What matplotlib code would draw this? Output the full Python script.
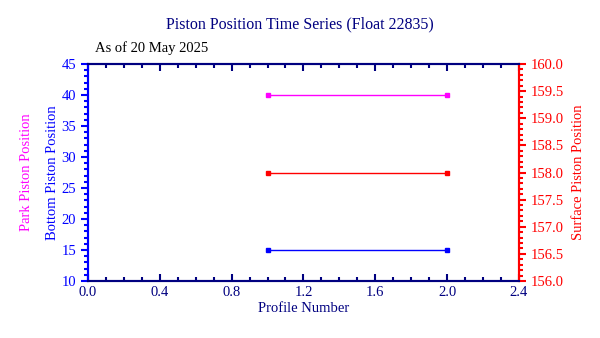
import matplotlib
matplotlib.use("Agg")
import matplotlib.pyplot as plt
from matplotlib.ticker import MultipleLocator, FormatStrFormatter

plt.rcParams['font.family'] = ['Liberation Serif', 'DejaVu Serif']

profiles = [1, 2]
bottom_piston = [15, 15]
park_piston = [40, 40]
surface_piston = [158.0, 158.0]

navy = '#000080'
fig = plt.figure(figsize=(6.0, 3.38), dpi=100)
ax = fig.add_axes([0.1467, 0.1686, 0.718, 0.642])

ax.plot(profiles, park_piston, color='#ff00ff', lw=1, marker='s', ms=3)
ax.plot(profiles, bottom_piston, color='#0000ff', lw=1, marker='s', ms=3)
ax.set_xlim(0, 2.4)
ax.set_ylim(10, 45)

ax2 = ax.twinx()
ax2.plot(profiles, surface_piston, color='#ff0000', lw=1, marker='s', ms=3)
ax2.set_ylim(156.0, 160.0)

# x axis
ax.xaxis.set_major_locator(MultipleLocator(0.4))
ax.xaxis.set_minor_locator(MultipleLocator(0.1))
ax.xaxis.set_major_formatter(FormatStrFormatter('%.1f'))
ax.tick_params(axis='x', which='both', direction='in', top=True, colors=navy,
               labelsize=10.5, width=1.5)
ax.tick_params(axis='x', which='major', length=5)
ax.tick_params(axis='x', which='minor', length=3)
ax.set_xlabel('Profile Number', color=navy, fontsize=10.5, labelpad=2)

# left axis
ax.yaxis.set_major_locator(MultipleLocator(5))
ax.yaxis.set_minor_locator(MultipleLocator(1))
ax.tick_params(axis='y', which='both', direction='out', colors='#0000ff',
               labelsize=10.5, width=1.5)
ax.tick_params(axis='y', which='major', length=5)
ax.tick_params(axis='y', which='minor', length=3)
ax.set_ylabel('Bottom Piston Position', color='#0000ff', fontsize=10.5, labelpad=2)
fig.text(0.045, 0.49, 'Park Piston Position', color='#ff00ff', fontsize=10.5,
         rotation=90, ha='center', va='center')

# right axis
ax2.yaxis.set_major_locator(MultipleLocator(0.5))
ax2.yaxis.set_minor_locator(MultipleLocator(0.1))
ax2.yaxis.set_major_formatter(FormatStrFormatter('%.1f'))
ax2.tick_params(axis='y', which='both', direction='out', colors='#ff0000',
                labelsize=10.5, width=1.5)
ax2.tick_params(axis='y', which='major', length=5)
ax2.tick_params(axis='y', which='minor', length=3)
ax2.set_ylabel('Surface Piston Position', color='#ff0000', fontsize=10.5, labelpad=6)

for a in (ax, ax2):
    a.spines['top'].set_color(navy)
    a.spines['bottom'].set_color(navy)
    a.spines['left'].set_color('#0000ff')
    a.spines['right'].set_color('#ff0000')
    for s in a.spines.values():
        s.set_linewidth(1.5)

fig.text(0.5, 0.928, 'Piston Position Time Series (Float 22835)', color=navy,
         fontsize=11.5, ha='center', va='center')
fig.text(0.158, 0.858, 'As of 20 May 2025', color='black', fontsize=10.5,
         ha='left', va='center')

fig.savefig('out.png', dpi=100)
